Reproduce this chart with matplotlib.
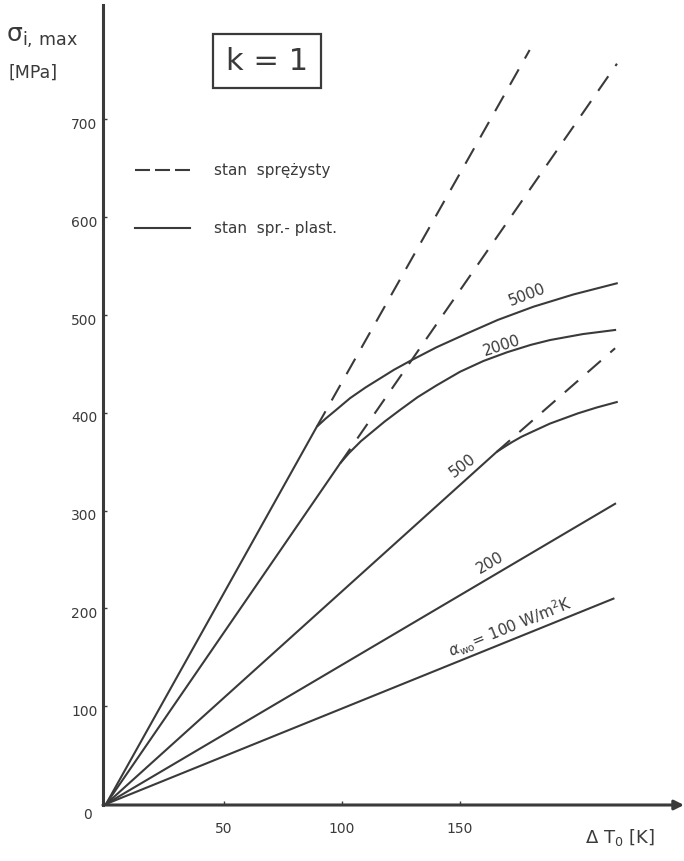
import matplotlib
matplotlib.use("Agg")
import matplotlib.pyplot as plt
from matplotlib.lines import Line2D
from matplotlib.transforms import ScaledTranslation

# ---- data ----
alpha_labels = ["100", "200", "500", "2000", "5000"]

# elastic-plastic (solid) curves: dT [K], sigma [MPa]
dT_100 = [0, 215.0]
s_100 = [0, 210.0]

dT_200 = [0, 215.7]
s_200 = [0, 307.0]

dT_500 = [0, 165.5, 169, 172, 176, 180, 188.1, 200, 208, 216.4]
s_500 = [0, 360.0, 365.5, 370, 375.5, 380, 389, 399.5, 405.5, 411]

dT_2000 = [0, 99.2, 103, 108, 113, 118, 124.6, 132, 140, 150, 159.9, 170, 180, 188.1, 202, 215.7]
s_2000 = [0, 348.4, 359, 371, 381, 391, 403, 416, 428, 442, 453, 462, 469.5, 474.4, 480.5, 484.7]

dT_5000 = [0, 89.3, 93, 97, 103.4, 110, 116, 122, 128.8, 140, 152.8, 166, 181.1, 198, 216.4]
s_5000 = [0, 385.8, 394, 402, 415, 426, 435, 444, 453, 467, 481, 495, 508.5, 521, 532.4]

# elastic (dashed) continuations
el_dT_500 = [165.5, 215.7]
el_s_500 = [360.0, 466.0]
el_dT_2000 = [99.2, 216.5]
el_s_2000 = [348.4, 757.0]
el_dT_5000 = [89.3, 179.5]
el_s_5000 = [385.8, 771.0]

x_ticks = [50, 100, 150]
y_ticks = [0, 100, 200, 300, 400, 500, 600, 700]

# ---- figure ----
W, H = 684, 861
fig = plt.figure(figsize=(W / 100, H / 100), dpi=100)
fig.patch.set_facecolor("white")
ax = fig.add_axes([103 / W, 56 / H, 581 / W, 800 / H])

c = "#3a3a3a"
lw = 1.5
dash = (0, (8.5, 6))

ax.plot(dT_100, s_100, color=c, lw=lw)
ax.plot(dT_200, s_200, color=c, lw=lw)
ax.plot(dT_500, s_500, color=c, lw=lw)
ax.plot(dT_2000, s_2000, color=c, lw=lw)
ax.plot(dT_5000, s_5000, color=c, lw=lw)

ax.plot(el_dT_500, el_s_500, color=c, lw=lw, linestyle=dash)
ax.plot(el_dT_2000, el_s_2000, color=c, lw=lw, linestyle=dash)
ax.plot(el_dT_5000, el_s_5000, color=c, lw=lw, linestyle=dash)

ax.set_xlim(-1.3, 244.9)
ax.set_ylim(-1.0, 817)

# axes styling
for s in ["top", "right", "bottom"]:
    ax.spines[s].set_visible(False)
ax.spines["left"].set_linewidth(2.2)
ax.spines["left"].set_color(c)
ax.annotate("", xy=(1.0, 0.0), xytext=(0.0, 0.0), xycoords="axes fraction",
            arrowprops=dict(arrowstyle="-|>", lw=2.2, color=c, mutation_scale=14,
                            shrinkA=0, shrinkB=0), annotation_clip=False)

ax.set_xticks(x_ticks)
ax.set_xticklabels([str(v) for v in x_ticks])
ax.set_yticks(y_ticks)
ax.set_yticklabels([str(v) for v in y_ticks])
ax.tick_params(axis="x", direction="in", length=3, width=1, color=c, pad=12,
               labelsize=10, labelcolor=c)
ax.tick_params(axis="y", direction="in", length=3, width=1, color=c, pad=4,
               labelsize=10, labelcolor=c)
for i, lab in enumerate(ax.get_yticklabels()):
    if i == 0:
        off = ScaledTranslation(-6 / 100, -9 / 100, fig.dpi_scale_trans)
    else:
        off = ScaledTranslation(0, -4 / 100, fig.dpi_scale_trans)
    lab.set_transform(lab.get_transform() + off)

# curve labels
lab_kw = dict(color=c, ha="center", va="center", rotation_mode="anchor", fontsize=11)
ax.text(178.4, 521, alpha_labels[4], rotation=21, **lab_kw)
ax.text(167.8, 469, alpha_labels[3], rotation=18, **lab_kw)
ax.text(151.3, 346, alpha_labels[2], rotation=37, **lab_kw)
ax.text(162.7, 247, alpha_labels[1], rotation=30, **lab_kw)
ax.text(171.2, 181, r"$\alpha_{\mathregular{wo}}$= " + alpha_labels[0] + r" W/m$^{\mathregular{2}}$K",
        rotation=22, **lab_kw)

# legend
handles = [Line2D([], [], color=c, lw=lw, linestyle=(0, (7.2, 2.4))),
           Line2D([], [], color=c, lw=lw)]
ax.legend(handles, ["stan  sprężysty", "stan  spr.- plast."], loc="upper left",
          bbox_to_anchor=(0.055, 0.802), frameon=False, handlelength=3.6,
          handletextpad=1.6, labelspacing=2.8, borderpad=0, borderaxespad=0,
          prop={"size": 11}, labelcolor=c)

# k = 1 box
fig.text(267 / W, 1 - 61 / H, "k = 1", fontsize=22, color=c, ha="center", va="center",
         bbox=dict(boxstyle="square,pad=0.42", fc="white", ec=c, lw=1.6))

# axis titles
fig.text(6 / W, 1 - 38 / H, r"$\mathregular{\sigma_{i,\,max}}$", fontsize=18, color=c,
         ha="left", va="center")
fig.text(8 / W, 1 - 73 / H, "[MPa]", fontsize=12.5, color=c, ha="left", va="center")
fig.text(620 / W, 1 - 838 / H, r"$\Delta$ T$_{\mathregular{0}}$ [K]", fontsize=13,
         color=c, ha="center", va="center")

fig.savefig("out.png", dpi=100, facecolor="white")
